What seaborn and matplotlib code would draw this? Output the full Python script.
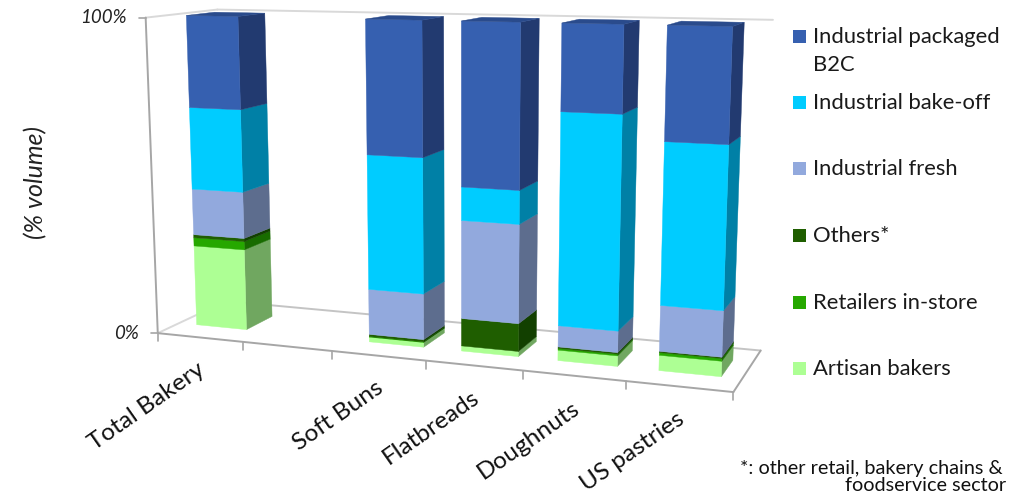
import numpy as np
import matplotlib
matplotlib.use("Agg")
import matplotlib.pyplot as plt
from matplotlib.patches import Polygon, Rectangle
import seaborn as sns

# Product segments, bottom of each stack first
categories = ["Total Bakery", "", "Soft Buns", "Flatbreads", "Doughnuts", "US pastries"]
artisan = [26.2, 0, 1.5, 1.6, 3.2, 4.6]
retailers = [2.7, 0, 0.2, 0.0, 0.5, 0.8]
others = [1.0, 0, 0.7, 8.6, 0.5, 0.4]
ind_fresh = [14.9, 0, 14.4, 30.3, 6.5, 13.7]
ind_bakeoff = [26.2, 0, 42.1, 10.2, 63.8, 47.7]
ind_packaged = [29.0, 0, 41.1, 49.3, 25.5, 32.8]

series_names = ["Artisan bakers", "Retailers in-store", "Others*", "Industrial fresh",
                "Industrial bake-off", "Industrial packaged\nB2C"]
front_colors = ["#ADFF94", "#26A800", "#1F5E00", "#92A9DD", "#00CCFF", "#3660B0"]
side_colors = ["#70A760", "#186C00", "#124000", "#5D6D8E", "#0080A6", "#223A70"]
top_colors = ["#8FD97A", "#1F8A00", "#184D00", "#7487B3", "#00A3CC", "#2A4B8C"]

sns.set_theme(style="white")
plt.rcParams["font.family"] = ["Lato", "DejaVu Sans"]

fig = plt.figure(figsize=(10.13, 4.94), dpi=100)
ax = fig.add_axes([0, 0, 1, 1])
ax.set_xlim(0, 1013)
ax.set_ylim(494, 0)
ax.axis("off")

# Camera for the 3-D box: (slot, share, depth) -> canvas position, solved by least squares
box_refs = [
    (0, 0, 0, 158, 333), (6, 0, 0, 733, 392), (0, 0, 1, 226, 301), (6, 0, 1, 761, 350),
    (0, 1, 0, 146, 17), (0, 1, 1, 217, 10), (6, 1, 1, 773, 20),
    (1, 0, 0, 243, 342), (2, 0, 0, 332.5, 351), (3, 0, 0, 425, 361),
    (4, 0, 0, 523.6, 371), (5, 0, 0, 626, 381),
]
rows, rhs = [], []
for X, Y, Z, u, v in box_refs:
    rows.append([X, Y, Z, 1, 0, 0, 0, 0, -u * X, -u * Y, -u * Z])
    rhs.append(u)
    rows.append([0, 0, 0, 0, X, Y, Z, 1, -v * X, -v * Y, -v * Z])
    rhs.append(v)
camera = np.append(np.linalg.lstsq(np.array(rows, float), np.array(rhs, float), rcond=None)[0], 1).reshape(3, 4)


def project(x, y, z):
    h = camera @ np.array([x, y, z, 1.0])
    return h[0] / h[2], h[1] / h[2]


def edge(p, q, color, lw=1.4):
    a, b = project(*p), project(*q)
    ax.plot([a[0], b[0]], [a[1], b[1]], color=color, lw=lw, solid_capstyle="round", zorder=1)


# Walls and floor outline
light, mid = "#D9D9D9", "#A6A6A6"
edge((0, 1, 0), (0, 1, 1), light)
edge((0, 1, 1), (6, 1, 1), light)
edge((0, 0, 0), (0, 0, 1), light)
edge((0, 0, 1), (6, 0, 1), "#C4C4C4")
edge((6, 0, 1), (6, 0, 0), mid)
edge((0, 0, 0), (6, 0, 0), mid)
edge((0, 0, 0), (0, 1, 0), mid)
for slot in range(7):
    u, v = project(slot, 0, 0)
    ax.plot([u, u], [v, v + 8], color=mid, lw=1.2, zorder=1)
for share in (0, 1):
    u, v = project(0, share, 0)
    ax.plot([u - 7, u], [v, v], color=mid, lw=1.2, zorder=1)

# Stacked 3-D columns, left to right so nearer faces sit on top
stack_values = [artisan, retailers, others, ind_fresh, ind_bakeoff, ind_packaged]
x_left, x_right, z0, z1 = 0.21, 0.805, 0.30, 0.70


def face(points, color, z):
    ax.add_patch(Polygon([project(*p) for p in points], closed=True, facecolor=color,
                         edgecolor=color, lw=0.3, zorder=z))


for i, name in enumerate(categories):
    if not name:
        continue
    x0, x1 = i + x_left, i + x_right
    base = 0.0
    for s, values in enumerate(stack_values):
        h = values[i] / 100
        if h <= 0:
            continue
        b, t = base, base + h
        face([(x1, b, z0), (x1, b, z1), (x1, t, z1), (x1, t, z0)], side_colors[s], 2 + i)
        face([(x0, b, z0), (x1, b, z0), (x1, t, z0), (x0, t, z0)], front_colors[s], 2 + i)
        base = t
    face([(x0, base, z0), (x1, base, z0), (x1, base, z1), (x0, base, z1)], top_colors[-1], 2 + i)

    u, v = project(i + 0.5, 0, 0)
    ax.text(u + 3, v + 30, name, rotation=35, rotation_mode="anchor", ha="right", va="center",
            fontsize=17.6, color="#111111")

# Share axis labels
u, v = project(0, 1, 0)
ax.text(u - 19, v, "100%", ha="right", va="center", fontsize=13.5, style="italic", color="#222222")
u, v = project(0, 0, 0)
ax.text(u - 19, v, "0%", ha="right", va="center", fontsize=13.5, style="italic", color="#222222")
ax.text(36, 182, "(% volume)", rotation=90, ha="center", va="center", fontsize=18, style="italic",
        color="#222222")

# Legend column, top entry first
legend_y = [36, 102, 168, 235, 302, 368]
for y, name, color in zip(legend_y, series_names[::-1], front_colors[::-1]):
    ax.add_patch(Rectangle((793, y - 6), 13, 13, facecolor=color, edgecolor="none"))
    ax.text(813, y - 9, name, ha="left", va="top", fontsize=15.8, color="#1A1A1A", linespacing=1.5)

# Footnote lines
ax.text(740, 468, "*: other retail, bakery chains &", ha="left", va="center", fontsize=14.3, color="#111111")
ax.text(845, 485, "foodservice sector", ha="left", va="center", fontsize=14.3, color="#111111")

fig.savefig("out.png", dpi=100)
